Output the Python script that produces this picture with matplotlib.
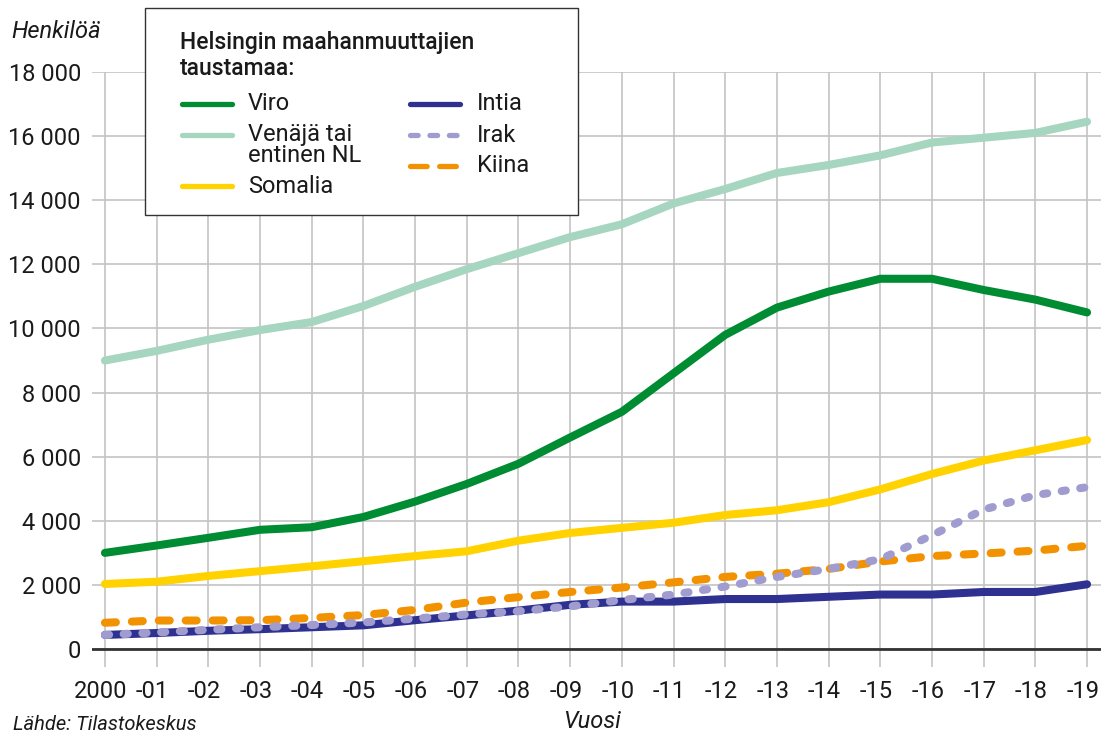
import numpy as np
import matplotlib
matplotlib.use("Agg")
import matplotlib.pyplot as plt
import matplotlib.transforms as mtransforms
from matplotlib.lines import Line2D
from matplotlib.patches import Rectangle
from matplotlib.ticker import FuncFormatter

plt.rcParams['font.family'] = ['Roboto', 'DejaVu Sans']
plt.rcParams['lines.scale_dashes'] = False

# data
years = list(range(2000, 2020))
xlabels = ['2000'] + ['-%02d' % (y % 100) for y in years[1:]]

viro = [3000, 3230, 3470, 3720, 3800, 4120, 4600, 5150, 5780, 6600,
        7400, 8600, 9800, 10650, 11150, 11550, 11550, 11200, 10900, 10500]
venaja = [9000, 9300, 9650, 9950, 10200, 10700, 11300, 11850, 12350, 12850,
          13250, 13900, 14350, 14850, 15100, 15400, 15800, 15950, 16100, 16450]
somalia = [2030, 2100, 2280, 2430, 2580, 2740, 2900, 3050, 3380, 3620,
           3780, 3940, 4180, 4330, 4580, 4980, 5460, 5880, 6200, 6520]
intia = [440, 500, 570, 620, 680, 740, 900, 1050, 1200, 1380,
         1480, 1480, 1560, 1560, 1630, 1700, 1700, 1780, 1780, 2020]
irak = [440, 520, 600, 680, 750, 830, 950, 1080, 1180, 1330,
        1530, 1700, 1950, 2250, 2500, 2800, 3550, 4350, 4800, 5050]
kiina = [820, 890, 890, 900, 970, 1060, 1220, 1450, 1620, 1780,
         1920, 2080, 2250, 2350, 2500, 2730, 2900, 2980, 3070, 3220]

c_viro = '#008c32'
c_venaja = '#a6d5c0'
c_somalia = '#ffd200'
c_intia = '#2e3190'
c_irak = '#a09cd0'
c_kiina = '#f39200'
c_text = '#1a1a1a'

W, H = 1101, 737
fig = plt.figure(figsize=(W / 100, H / 100), dpi=100)
ax = fig.add_axes([92 / W, 1 - 667 / H, (W - 92) / W, (667 - 72) / H])

lw = 5.8
dots = (0, (3.0, 10.5))
dash = (0, (7.9, 11.5))

ax.plot(years, venaja, color=c_venaja, lw=lw, solid_capstyle='round', zorder=3)
ax.plot(years, viro, color=c_viro, lw=lw, solid_capstyle='round', zorder=3)
ax.plot(years, somalia, color=c_somalia, lw=lw, solid_capstyle='round', zorder=3)
ax.plot(years, intia, color=c_intia, lw=lw, solid_capstyle='round', zorder=3)
ax.plot(years, kiina, color=c_kiina, lw=lw, linestyle=dash, dash_capstyle='round', zorder=4)
ax.plot(years, irak, color=c_irak, lw=lw, linestyle=dots, dash_capstyle='round', zorder=5)

ax.set_xlim(1999.75, 2019.27)
ax.set_ylim(-560, 18000)
ax.set_xticks(years)
ax.set_xticklabels(xlabels)
ax.set_yticks(np.arange(0, 18001, 2000))
ax.yaxis.set_major_formatter(FuncFormatter(lambda v, p: '{:,}'.format(int(v)).replace(',', ' ')))
ax.tick_params(length=0, labelsize=17, colors=c_text)
ax.tick_params(axis='y', pad=8)
ax.tick_params(axis='x', pad=9)
# x labels sit a bit left of their grid lines in the original
shift = mtransforms.ScaledTranslation(-4 / 100, 0, fig.dpi_scale_trans)
for lab in ax.get_xticklabels():
    lab.set_transform(lab.get_transform() + shift)
ax.grid(True, color='#c4c4c4', lw=1.2, zorder=0)
for s in ax.spines.values():
    s.set_visible(False)
ax.axhline(0, color='#333333', lw=2, zorder=2)

fig.text(11 / W, 1 - 32 / H, 'Henkilöä', fontsize=17, style='italic', va='center', color=c_text)
fig.text(592 / W, 1 - 722 / H, 'Vuosi', fontsize=17, style='italic', ha='center', va='center', color=c_text)
fig.text(13 / W, 1 - 724 / H, 'Lähde: Tilastokeskus', fontsize=14.5, style='italic', va='center', color=c_text)

# legend box
def fp(x, y):
    return x / W, 1 - y / H

fig.patches.append(Rectangle(fp(145, 215), 433 / W, 207 / H, transform=fig.transFigure,
                             facecolor='white', edgecolor='#333333', lw=1, zorder=10))
# multi-line texts: baseline = last line
fig.text(*fp(180, 75), 'Helsingin maahanmuuttajien\ntaustamaa:', fontsize=16.5, weight='medium',
         va='baseline', linespacing=1.18, color=c_text, zorder=11)

leg_items = [
    (182, 104, 248, 110, c_viro, '-', 'Viro'),
    (182, 135, 248, 162, c_venaja, '-', 'Venäjä tai\nentinen NL'),
    (182, 186, 248, 193, c_somalia, '-', 'Somalia'),
    (410, 104, 477, 110, c_intia, '-', 'Intia'),
    (410, 135, 477, 142, c_irak, (0, (5.5, 8.5)), 'Irak'),
    (410, 166, 477, 172, c_kiina, (0, (12, 9)), 'Kiina'),
]
for hx, hy, tx, ty, col, ls, lab in leg_items:
    x0, y0 = fp(hx, hy)
    x1, _ = fp(hx + 50, hy)
    fig.add_artist(Line2D([x0, x1], [y0, y0], transform=fig.transFigure, color=col, lw=3.8,
                          linestyle=ls, solid_capstyle='round', dash_capstyle='round', zorder=11))
    fig.text(*fp(tx, ty), lab, fontsize=17, va='baseline', linespacing=0.89,
             color=c_text, zorder=11)

fig.savefig('out.png', dpi=100)
